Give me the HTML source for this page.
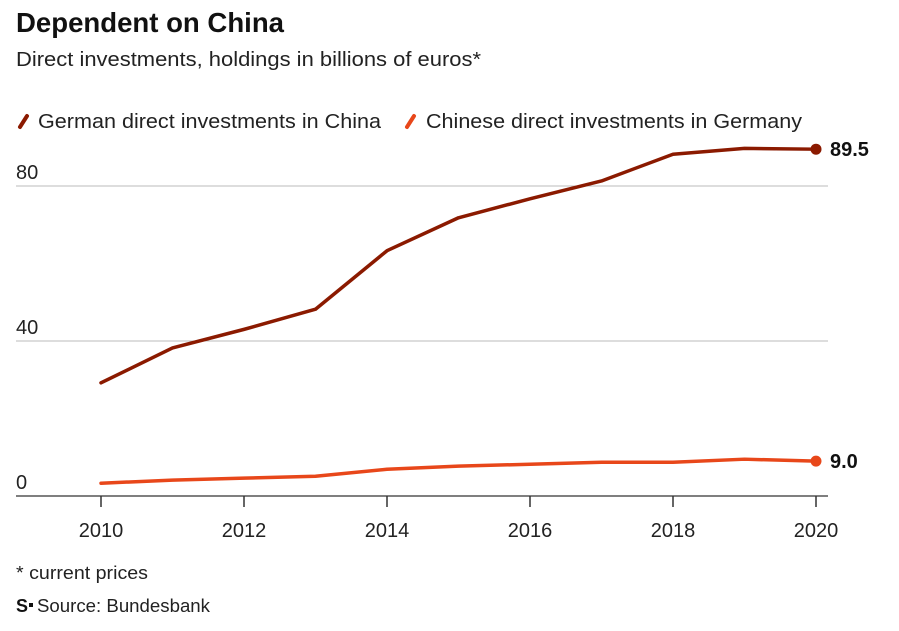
<!DOCTYPE html>
<html><head><meta charset="utf-8"><style>
body{margin:0;background:#fff;width:899px;height:626px;overflow:hidden;font-family:"Liberation Sans",sans-serif;}
svg text{font-family:"Liberation Sans",sans-serif;}
</style></head><body>
<svg width="899" height="626">
<text x="16" y="32" font-size="28" font-weight="bold" fill="#111" textLength="268" lengthAdjust="spacingAndGlyphs">Dependent on China</text>
<text x="16" y="66" font-size="20" fill="#222" textLength="465" lengthAdjust="spacingAndGlyphs">Direct investments, holdings in billions of euros*</text>
<g>
<line x1="20" y1="127" x2="27" y2="116" stroke="#8b1a00" stroke-width="4" stroke-linecap="round"/>
<text x="38" y="128" font-size="20" fill="#222" textLength="343" lengthAdjust="spacingAndGlyphs">German direct investments in China</text>
<line x1="407" y1="127" x2="414" y2="116" stroke="#e8471a" stroke-width="4" stroke-linecap="round"/>
<text x="426" y="128" font-size="20" fill="#222" textLength="376" lengthAdjust="spacingAndGlyphs">Chinese direct investments in Germany</text>
</g>
<g id="plot"></g>
<text x="16" y="579" font-size="18" fill="#222" textLength="132" lengthAdjust="spacingAndGlyphs">* current prices</text>
<text x="16" y="612" font-size="18" font-weight="bold" fill="#111">S</text>
<rect x="29" y="603" width="4" height="4" fill="#111"/>
<text x="37" y="612" font-size="18" fill="#222" textLength="173" lengthAdjust="spacingAndGlyphs">Source: Bundesbank</text>
</svg>
<script>
const years=[2010,2011,2012,2013,2014,2015,2016,2017,2018,2019,2020];
const german=[29.2,38.2,43,48.2,63.3,71.8,76.7,81.3,88.2,89.7,89.5];
const chinese=[3.3,4.1,4.6,5.1,6.9,7.7,8.2,8.7,8.7,9.5,9.0];
const yTicks=[0,40,80];
const xTicks=[2010,2012,2014,2016,2018,2020];
const NS="http://www.w3.org/2000/svg";
const g=document.getElementById('plot');
const x=v=>101+(v-2010)*71.5;
const y=v=>496-v*3.875;
function mk(t,a){const e=document.createElementNS(NS,t);for(const k in a)e.setAttribute(k,a[k]);g.appendChild(e);return e;}
yTicks.forEach(t=>{
 if(t>0){const l=mk('line',{x1:16,x2:828,y1:y(t),y2:y(t),stroke:'#bbb','stroke-width':1});
 
 }
 const tx=mk('text',{x:16,y:y(t)-7,'font-size':20,fill:'#222'});tx.textContent=t;
 
 
});
const ax=mk('line',{x1:16,x2:828,y1:y(0),y2:y(0),stroke:'#333','stroke-width':1.2});


xTicks.forEach(t=>{
 const l=mk('line',{x1:x(t),x2:x(t),y1:y(0),y2:y(0)+11,stroke:'#333','stroke-width':1.5});
 
 
 const tx=mk('text',{x:x(t),y:537,'font-size':20,fill:'#222','text-anchor':'middle'});tx.textContent=t;
 
 
});
function series(vals,col,name){
 const p=mk('polyline',{points:vals.map((v,i)=>x(years[i])+','+y(v)).join(' '),fill:'none',stroke:col,'stroke-width':3.5,'stroke-linejoin':'round','stroke-linecap':'round'});
 
 
 const last=vals[vals.length-1];
 const c=mk('circle',{cx:x(years[years.length-1]),cy:y(last),r:5.5,fill:col});
 
 
 const t=mk('text',{x:830,y:y(last)+7,'font-size':20,'font-weight':'bold',fill:'#111'});t.textContent=last.toFixed(1);
 
 
}
series(german,'#8b1a00','german');
series(chinese,'#e8471a','chinese');
</script>
</body></html>
